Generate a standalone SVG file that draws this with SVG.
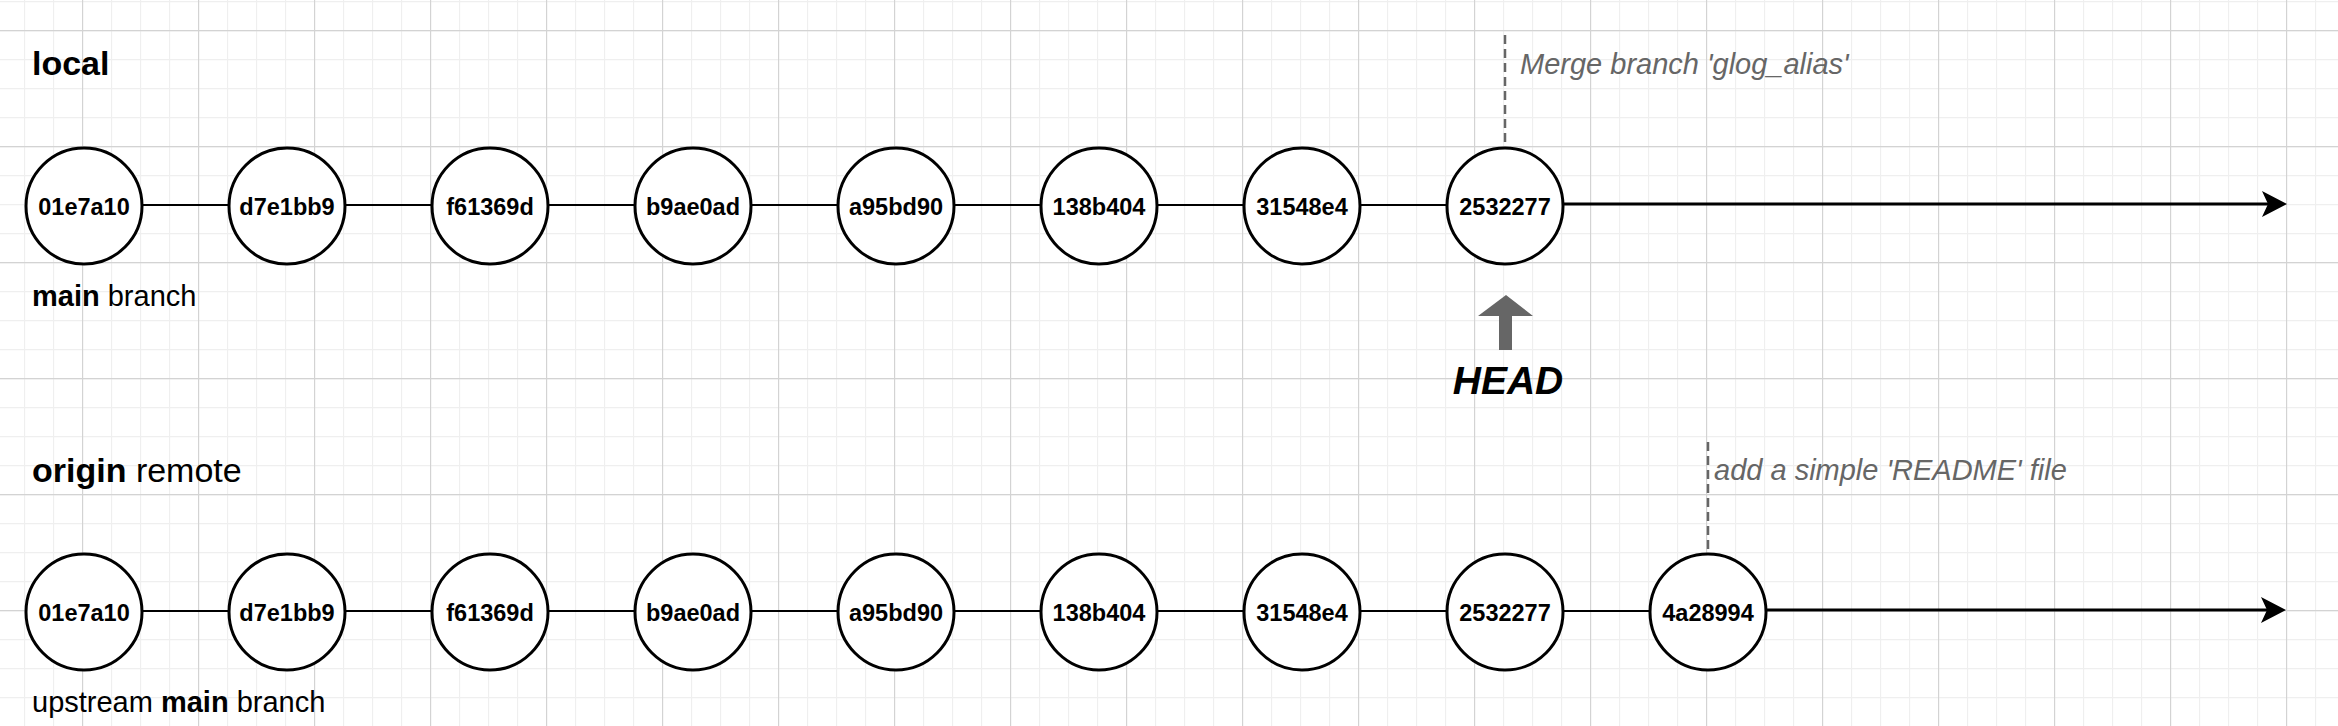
<svg xmlns="http://www.w3.org/2000/svg" width="2338" height="726" viewBox="0 0 2338 726">
<defs>
<pattern id="gMinor" width="29" height="29" patternUnits="userSpaceOnUse" x="82" y="30"><path d="M0 0.5H29M0.5 0V29" stroke="#efefef" stroke-width="1.3" fill="none"/></pattern>
<pattern id="gMajor" width="116" height="116" patternUnits="userSpaceOnUse" x="82" y="30"><path d="M0 0.5H116M0.5 0V116" stroke="#d3d3d3" stroke-width="1.3" fill="none"/></pattern>
</defs>
<style>
text{font-family:"Liberation Sans",Arial,Helvetica,sans-serif}
.c{fill:#fff;stroke:#000;stroke-width:3}
.t{font-size:23.5px;font-weight:bold;text-anchor:middle;fill:#000}
.h{font-size:34px;fill:#000}
.s{font-size:29px;fill:#000}
.b{font-weight:bold}
.n{font-size:29px;font-style:italic;fill:#666}
.e{stroke:#000;stroke-width:2;fill:none}
.m{stroke:#000;stroke-width:3;fill:none}
.d{stroke:#666;stroke-width:2.5;stroke-dasharray:9 5;fill:none}
</style>
<rect width="2338" height="726" fill="#fff"/>
<rect width="2338" height="726" fill="url(#gMinor)"/>
<rect width="2338" height="726" fill="url(#gMajor)"/>

<g id="connectors">
<line class="e" x1="142" y1="205" x2="229" y2="205"/>
<line class="e" x1="345" y1="205" x2="432" y2="205"/>
<line class="e" x1="548" y1="205" x2="635" y2="205"/>
<line class="e" x1="751" y1="205" x2="838" y2="205"/>
<line class="e" x1="954" y1="205" x2="1041" y2="205"/>
<line class="e" x1="1157" y1="205" x2="1244" y2="205"/>
<line class="e" x1="1360" y1="205" x2="1447" y2="205"/>
<line class="m" x1="1563" y1="204" x2="2268" y2="204"/>
<path d="M2287 204 L2262 191 L2268 204 L2262 217 Z" fill="#000"/>
<line class="e" x1="142" y1="611" x2="229" y2="611"/>
<line class="e" x1="345" y1="611" x2="432" y2="611"/>
<line class="e" x1="548" y1="611" x2="635" y2="611"/>
<line class="e" x1="751" y1="611" x2="838" y2="611"/>
<line class="e" x1="954" y1="611" x2="1041" y2="611"/>
<line class="e" x1="1157" y1="611" x2="1244" y2="611"/>
<line class="e" x1="1360" y1="611" x2="1447" y2="611"/>
<line class="e" x1="1563" y1="611" x2="1650" y2="611"/>
<line class="m" x1="1766" y1="610" x2="2267" y2="610"/>
<path d="M2286 610 L2261 597 L2267 610 L2261 623 Z" fill="#000"/>
<line class="d" x1="1505" y1="35" x2="1505" y2="148"/>
<line class="d" x1="1708" y1="442" x2="1708" y2="554"/>
</g>

<g id="label-local"><text class="h b" x="32" y="75">local</text></g>
<g id="label-main"><text class="s" x="32" y="306"><tspan class="b">main</tspan> branch</text></g>
<g id="label-origin"><text class="h" x="32" y="481.5"><tspan class="b">origin</tspan> remote</text></g>
<g id="label-upstream"><text class="s" x="32" y="712">upstream <tspan class="b">main</tspan> branch</text></g>
<g id="note-merge"><text class="n" x="1520" y="74">Merge branch 'glog_alias'</text></g>
<g id="note-readme"><text class="n" x="1714" y="480">add a simple 'README' file</text></g>

<g id="head">
<path d="M1506 295 L1533 316 L1512 316 L1512 350 L1499 350 L1499 316 L1478 316 Z" fill="#666"/>
<text x="1508" y="394" style="font-size:39px;font-weight:bold;font-style:italic;text-anchor:middle;fill:#000">HEAD</text>
</g>

<g id="local-01e7a10"><circle class="c" cx="84" cy="206" r="58"/><text class="t" x="84" y="214.5">01e7a10</text></g>
<g id="local-d7e1bb9"><circle class="c" cx="287" cy="206" r="58"/><text class="t" x="287" y="214.5">d7e1bb9</text></g>
<g id="local-f61369d"><circle class="c" cx="490" cy="206" r="58"/><text class="t" x="490" y="214.5">f61369d</text></g>
<g id="local-b9ae0ad"><circle class="c" cx="693" cy="206" r="58"/><text class="t" x="693" y="214.5">b9ae0ad</text></g>
<g id="local-a95bd90"><circle class="c" cx="896" cy="206" r="58"/><text class="t" x="896" y="214.5">a95bd90</text></g>
<g id="local-138b404"><circle class="c" cx="1099" cy="206" r="58"/><text class="t" x="1099" y="214.5">138b404</text></g>
<g id="local-31548e4"><circle class="c" cx="1302" cy="206" r="58"/><text class="t" x="1302" y="214.5">31548e4</text></g>
<g id="local-2532277"><circle class="c" cx="1505" cy="206" r="58"/><text class="t" x="1505" y="214.5">2532277</text></g>

<g id="origin-01e7a10"><circle class="c" cx="84" cy="612" r="58"/><text class="t" x="84" y="620.5">01e7a10</text></g>
<g id="origin-d7e1bb9"><circle class="c" cx="287" cy="612" r="58"/><text class="t" x="287" y="620.5">d7e1bb9</text></g>
<g id="origin-f61369d"><circle class="c" cx="490" cy="612" r="58"/><text class="t" x="490" y="620.5">f61369d</text></g>
<g id="origin-b9ae0ad"><circle class="c" cx="693" cy="612" r="58"/><text class="t" x="693" y="620.5">b9ae0ad</text></g>
<g id="origin-a95bd90"><circle class="c" cx="896" cy="612" r="58"/><text class="t" x="896" y="620.5">a95bd90</text></g>
<g id="origin-138b404"><circle class="c" cx="1099" cy="612" r="58"/><text class="t" x="1099" y="620.5">138b404</text></g>
<g id="origin-31548e4"><circle class="c" cx="1302" cy="612" r="58"/><text class="t" x="1302" y="620.5">31548e4</text></g>
<g id="origin-2532277"><circle class="c" cx="1505" cy="612" r="58"/><text class="t" x="1505" y="620.5">2532277</text></g>
<g id="origin-4a28994"><circle class="c" cx="1708" cy="612" r="58"/><text class="t" x="1708" y="620.5">4a28994</text></g>
</svg>
